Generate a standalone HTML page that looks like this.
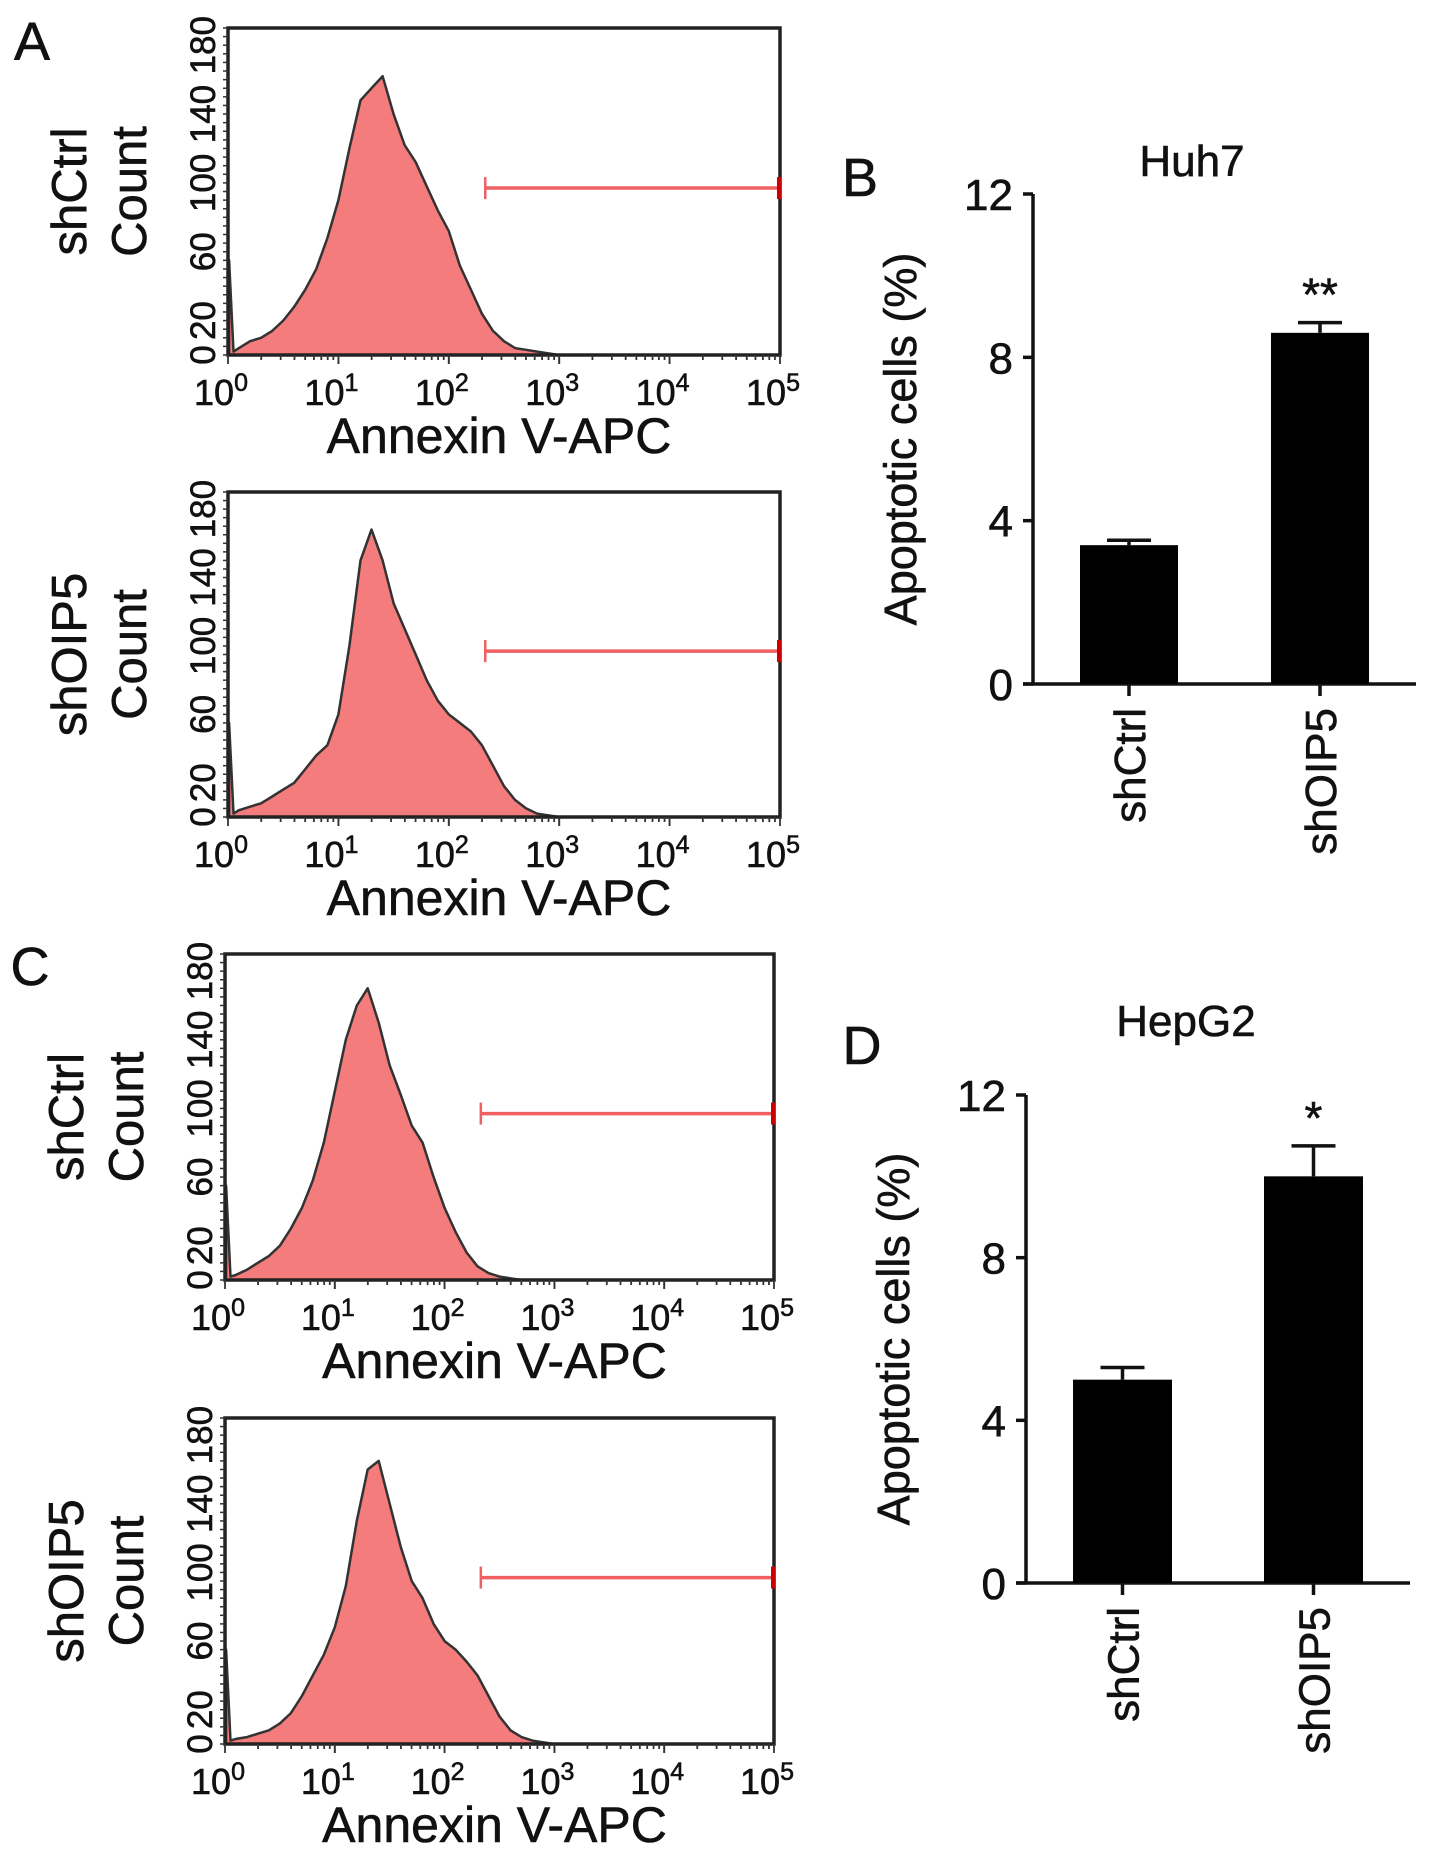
<!DOCTYPE html>
<html><head><meta charset="utf-8"><style>
html,body{margin:0;padding:0;background:#fff}
svg{display:block}
text{font-family:"Liberation Sans",sans-serif;fill:#111;stroke:#111;stroke-width:0.6}
</style></head><body>
<svg id="fig" width="1441" height="1867" viewBox="0 0 1441 1867" xmlns="http://www.w3.org/2000/svg"></svg>
<script>
// ---- histogram data (log10 Annexin V-APC intensity vs count) ----
const logX = [0.01,0.05,0.1,0.2,0.3,0.4,0.5,0.6,0.7,0.8,0.9,1.0,1.1,1.2,1.3,1.4,1.5,1.6,1.7,1.8,1.9,2.0,2.1,2.2,2.3,2.4,2.5,2.6,2.7,2.8,2.9,3.0,3.1];
const countsHuh7Ctrl = [55,2,4,8,10,14,20,28,38,50,68,90,120,148,155,162,140,122,112,98,84,72,52,38,24,14,8,4,3,2,1,0,0];
const countsHuh7OIP5 = [55,2,4,6,8,12,16,20,28,36,42,60,100,150,168,150,125,110,95,80,68,60,55,50,42,30,18,10,5,2,1,0,0];
const countsHepCtrl = [55,2,3,6,10,14,20,30,42,58,80,110,140,160,170,150,125,108,90,80,60,42,28,16,8,4,2,1,0,0,0,0,0];
const countsHepOIP5 = [55,2,3,4,6,8,12,18,28,40,52,68,92,130,160,165,140,115,95,85,70,60,55,48,40,28,16,8,4,2,1,0,0];
const countTicks = [0,20,60,100,140,180];
const decadeTicks = [0,1,2,3,4,5];
const gateRange = [2.33,5];
const gateCount = 97;
// ---- bar data ----
const barCategories = ["shCtrl","shOIP5"];
const huh7Values = [3.4,8.6];
const huh7Errors = [0.12,0.25];
const hepValues = [5.0,10.0];
const hepErrors = [0.3,0.75];
const barTicks = [0,4,8,12];

const svg = document.getElementById('fig');
const NS = 'http://www.w3.org/2000/svg';
function mk(tag, attrs, parent, text){
  const e = document.createElementNS(NS, tag);
  for (const k in attrs) e.setAttribute(k, attrs[k]);
  if (text !== undefined) e.textContent = text;
  (parent||svg).appendChild(e);
  return e;
}

function histogram(name, box, counts, sample){
  const g = mk('g', {});
  
  
  const xs = v => box.x + (v/5)*box.w;
  const ys = c => box.y + box.h - (c/190)*box.h;
  let d = 'M' + xs(logX[0]) + ',' + ys(0);
  logX.forEach((lx,i) => { d += ' L' + xs(lx).toFixed(1) + ',' + ys(counts[i]).toFixed(1); });
  d += ' L' + xs(logX[logX.length-1]) + ',' + ys(0) + ' Z';
  const area = mk('path', {d:d, fill:'#f47c7c', stroke:'#333', 'stroke-width':2.5, 'stroke-linejoin':'round'}, g);
  
  
  const frame = mk('rect', {x:box.x, y:box.y, width:box.w, height:box.h, fill:'none', stroke:'#222', 'stroke-width':3.5}, g);
  
  
  const gy = ys(gateCount);
  const gate = mk('g', {}, g);
  
  
  mk('line', {x1:xs(gateRange[0]), x2:xs(gateRange[1]), y1:gy, y2:gy, stroke:'#f06060', 'stroke-width':3.5}, gate);
  mk('line', {x1:xs(gateRange[0]), x2:xs(gateRange[0]), y1:gy-11, y2:gy+11, stroke:'#f06060', 'stroke-width':2.5}, gate);
  mk('line', {x1:xs(gateRange[1])-1, x2:xs(gateRange[1])-1, y1:gy-11, y2:gy+11, stroke:'#c00', 'stroke-width':4}, gate);
  for (let c=0;c<=190;c+=5) mk('line', {x1:box.x-5, x2:box.x, y1:ys(c), y2:ys(c), stroke:'#333', 'stroke-width':1.5}, g);
  for (let dec=0; dec<5; dec++) for (let m=1;m<=10;m++){
    const v = dec + Math.log10(m);
    mk('line', {x1:xs(v), x2:xs(v), y1:box.y+box.h, y2:box.y+box.h+(m===1||m===10?9:5), stroke:'#333', 'stroke-width':1.8}, g);
  }
  countTicks.forEach(c => {
    const t = mk('text', {x:0, y:0, 'font-size':35, 'text-anchor':'middle', transform:'translate('+(box.x-13)+','+ys(c)+') rotate(-90)'}, g, String(c));
    
    
  });
  decadeTicks.forEach(p => {
    const t = mk('text', {x:xs(p)-7, y:box.y+box.h+50, 'font-size':36, 'text-anchor':'middle'}, g);
    
    
    mk('tspan', {}, t, '10');
    mk('tspan', {dy:-14, 'font-size':25}, t, String(p));
  });
  const xt = mk('text', {x:box.x+box.w/2-5, y:box.y+box.h+98, 'font-size':50, 'text-anchor':'middle'}, g, 'Annexin V-APC');
  
  
  const yt = mk('text', {x:0, y:0, 'font-size':49, 'text-anchor':'middle', transform:'translate('+(box.x-82)+','+(box.y+box.h/2)+') rotate(-90)'}, g, 'Count');
  
  
  const st = mk('text', {x:0, y:0, 'font-size':49, 'text-anchor':'middle', transform:'translate('+(box.x-142)+','+(box.y+box.h/2)+') rotate(-90)'}, g, sample);
  
  
}

histogram('histogram-huh7-shctrl', {x:228,y:28,w:552,h:327}, countsHuh7Ctrl, 'shCtrl');
histogram('histogram-huh7-shoip5', {x:228,y:492,w:552,h:325}, countsHuh7OIP5, 'shOIP5');
histogram('histogram-hepg2-shctrl', {x:225,y:954,w:549,h:326}, countsHepCtrl, 'shCtrl');
histogram('histogram-hepg2-shoip5', {x:225,y:1418,w:549,h:326}, countsHepOIP5, 'shOIP5');

function barChart(name, ax, vals, errs, title, titlePos){
  const g = mk('g', {});
  
  
  const ys = v => ax.y0 - (v/12)*(ax.y0-ax.y12);
  const bandX = i => ax.bx[i];
  mk('line', {x1:ax.x, x2:ax.x, y1:ax.y12, y2:ax.y0, stroke:'#111', 'stroke-width':3.5}, g);
  mk('line', {x1:ax.x-10, x2:ax.xe, y1:ax.y0, y2:ax.y0, stroke:'#111', 'stroke-width':3.5}, g);
  barTicks.forEach(v => {
    mk('line', {x1:ax.x-10, x2:ax.x, y1:ys(v), y2:ys(v), stroke:'#111', 'stroke-width':3.5}, g);
    const t = mk('text', {x:ax.x-20, y:ys(v)+16, 'font-size':44, 'text-anchor':'end'}, g, String(v));
    
    
  });
  vals.forEach((v,i) => {
    const x = bandX(i);
    const top = ys(v), et = ys(v+errs[i]);
    mk('line', {x1:x+ax.bw/2, x2:x+ax.bw/2, y1:top, y2:et, stroke:'#111', 'stroke-width':3.5}, g);
    mk('line', {x1:x+ax.bw/2-22, x2:x+ax.bw/2+22, y1:et, y2:et, stroke:'#111', 'stroke-width':3.5}, g);
    const r = mk('rect', {x:x, y:top, width:ax.bw, height:ax.y0-top, fill:'#000'}, g);
    
    
    mk('line', {x1:x+ax.bw/2, x2:x+ax.bw/2, y1:ax.y0, y2:ax.y0+12, stroke:'#111', 'stroke-width':3.5}, g);
    const t = mk('text', {x:0, y:0, 'font-size':44, 'text-anchor':'end', transform:'translate('+(x+ax.bw/2+16)+','+(ax.y0+24)+') rotate(-90)'}, g, barCategories[i]);
    
    
  });
  const sig = mk('text', {x:bandX(1)+ax.bw/2, y:ys(vals[1]+errs[1])-12, 'font-size':46, 'text-anchor':'middle'}, g, ax.sig);
  
  
  const yt = mk('text', {x:0, y:0, 'font-size':45, 'text-anchor':'middle', transform:'translate('+(ax.x-117)+','+((ax.y0+ax.y12)/2)+') rotate(-90)'}, g, 'Apoptotic cells (%)');
  
  
  const tt = mk('text', {x:titlePos[0], y:titlePos[1], 'font-size':44, 'text-anchor':'middle'}, g, title);
  
  
}
barChart('bar-chart-huh7', {x:1033, xe:1416, y0:684, y12:194, bx:[1080,1271], bw:98, sig:'**'}, huh7Values, huh7Errors, 'Huh7', [1192,176]);
barChart('bar-chart-hepg2', {x:1026, xe:1410, y0:1583, y12:1095, bx:[1073,1264], bw:99, sig:'*'}, hepValues, hepErrors, 'HepG2', [1186,1036]);

[['A',32,60],['B',860,196],['C',30,985],['D',862,1064]].forEach(p => {
  const t = mk('text', {x:p[1], y:p[2], 'font-size':54, 'text-anchor':'middle'}, svg, p[0]);
  
  
});
</script>
</body></html>
